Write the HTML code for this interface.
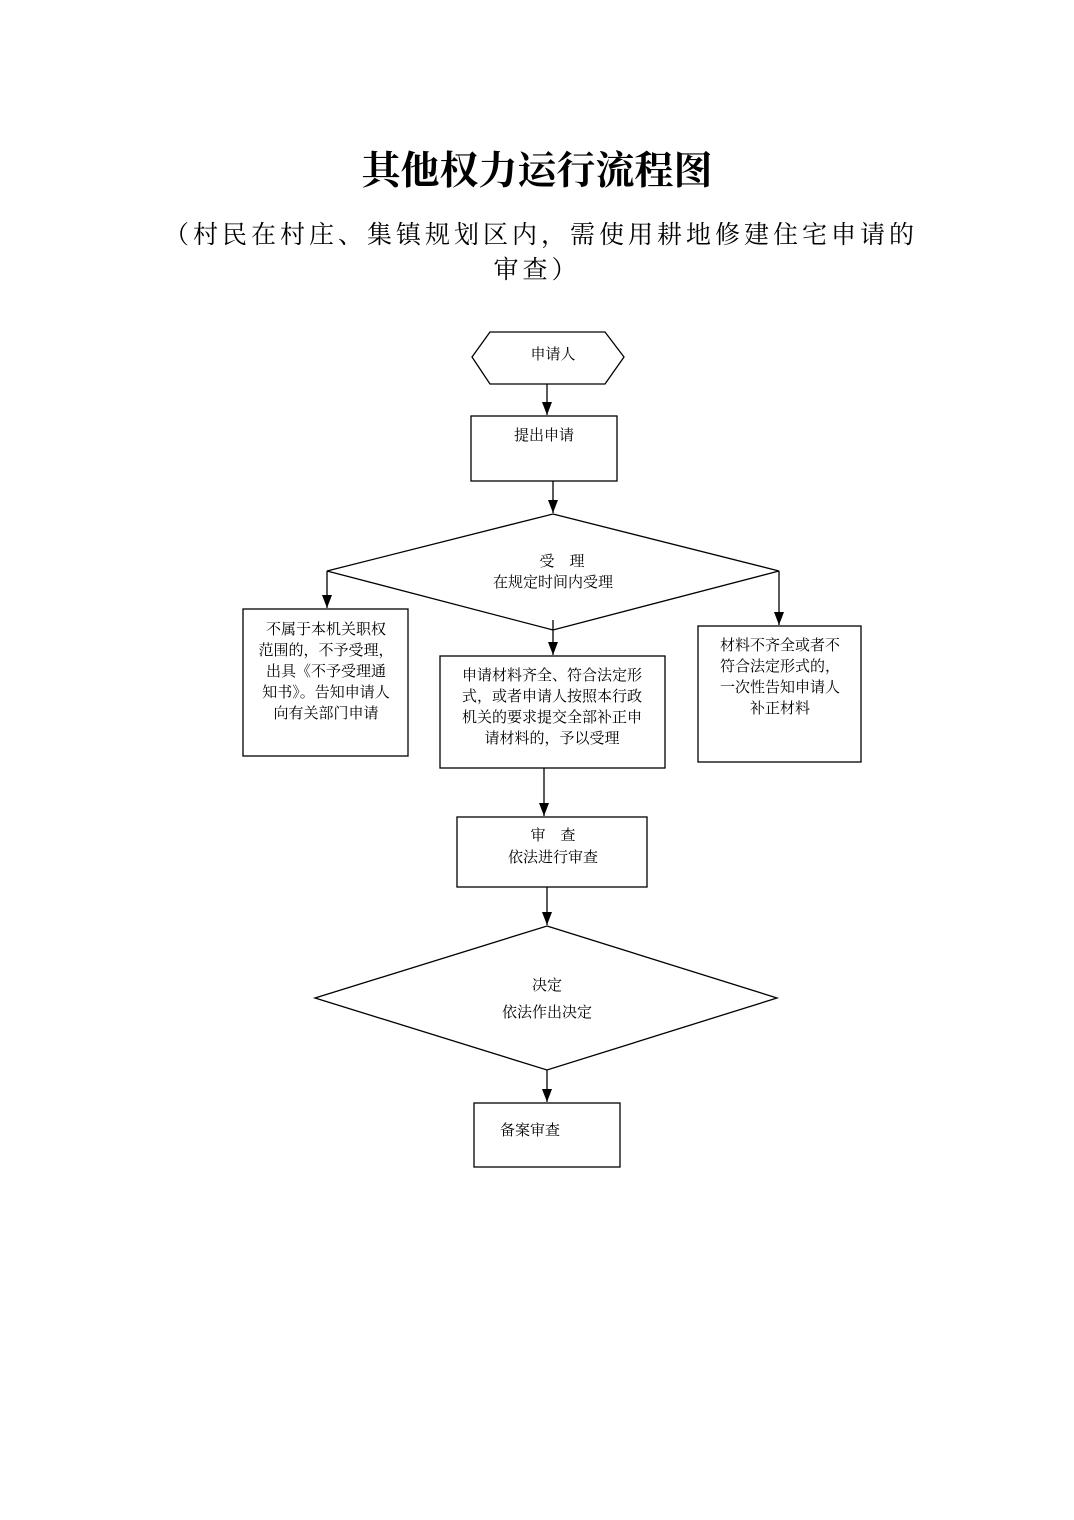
<!DOCTYPE html>
<html><head><meta charset="utf-8"><style>
html,body{margin:0;padding:0;background:#fff;}
svg{display:block;}
text{font-family:"Liberation Serif","Noto Serif CJK SC","Noto Sans CJK SC",serif;fill:#000;}
</style></head><body>
<svg width="1074" height="1520" viewBox="0 0 1074 1520" xmlns="http://www.w3.org/2000/svg">
<defs>
<marker id="b" markerWidth="12" markerHeight="14" refX="6" refY="13" orient="0" markerUnits="userSpaceOnUse"><path d="M1,0 L11,0 L6,13 z" fill="#000"/></marker></defs>
<text x="537" y="184" font-size="39" font-weight="bold" text-anchor="middle">其他权力运行流程图</text>
<text x="541" y="243" font-size="25" text-anchor="middle" letter-spacing="4">（村民在村庄、集镇规划区内，需使用耕地修建住宅申请的</text>
<text x="537" y="278" font-size="25" text-anchor="middle" letter-spacing="4">审查）</text>
<g stroke="#000" stroke-width="1.3" fill="none">
<polygon points="472,357 490,332 605,332 624,357 605,384 490,384"/>
<rect x="471" y="416" width="146" height="65"/>
<polygon points="553,514 779,571 553,630 327,571"/>
<rect x="243" y="609" width="165" height="147"/>
<rect x="698" y="626" width="163" height="136"/>
<rect x="440" y="656" width="225" height="112"/>
<rect x="457" y="817" width="190" height="70"/>
<polygon points="547,926 777,998 547,1070 315,998"/>
<rect x="474" y="1103" width="146" height="64"/>
<line x1="547" y1="384" x2="547" y2="415" marker-end="url(#b)"/>
<line x1="553" y1="481" x2="553" y2="513" marker-end="url(#b)"/>
<line x1="327" y1="571" x2="327" y2="608" marker-end="url(#b)"/>
<line x1="779" y1="571" x2="779" y2="625" marker-end="url(#b)"/>
<line x1="553" y1="620" x2="553" y2="655" marker-end="url(#b)"/>
<line x1="544" y1="768" x2="544" y2="816" marker-end="url(#b)"/>
<line x1="547" y1="887" x2="547" y2="925" marker-end="url(#b)"/>
<line x1="547" y1="1070" x2="547" y2="1102" marker-end="url(#b)"/>
</g>
<g font-size="15" text-anchor="middle">
<text x="553" y="359">申请人</text>
<text x="544" y="440">提出申请</text>
<text x="562" y="566">受　理</text>
<text x="553" y="587">在规定时间内受理</text>
<text x="326" y="634">不属于本机关职权</text>
<text x="326" y="655">范围的，不予受理，</text>
<text x="326" y="676">出具《不予受理通</text>
<text x="326" y="697">知书》。告知申请人</text>
<text x="326" y="718">向有关部门申请</text>
<text x="552" y="680">申请材料齐全、符合法定形</text>
<text x="552" y="701">式，或者申请人按照本行政</text>
<text x="552" y="722">机关的要求提交全部补正申</text>
<text x="552" y="743">请材料的，予以受理</text>
<text x="780" y="650">材料不齐全或者不</text>
<text x="780" y="671">符合法定形式的，</text>
<text x="780" y="692">一次性告知申请人</text>
<text x="780" y="713">补正材料</text>
<text x="553" y="840">审　查</text>
<text x="553" y="862">依法进行审查</text>
<text x="547" y="990">决定</text>
<text x="547" y="1017">依法作出决定</text>
<text x="530" y="1135">备案审查</text>
</g>
</svg>
</body></html>
